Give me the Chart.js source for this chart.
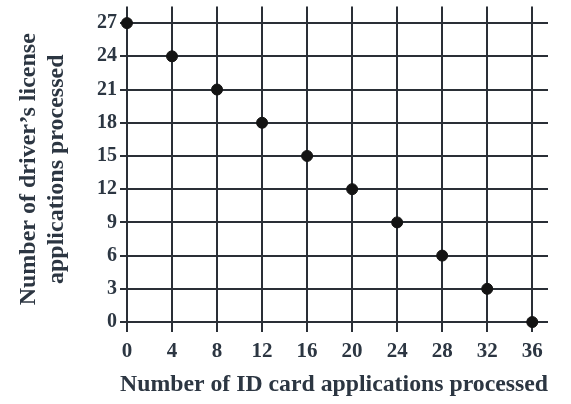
<!DOCTYPE html>
<html>
<head>
<meta charset="utf-8">
<script src="https://cdn.jsdelivr.net/npm/chart.js@4/dist/chart.umd.min.js"></script>
<style>
html,body{margin:0;padding:0;background:#fff;}
#wrap{width:571px;height:404px;position:relative;}
</style>
</head>
<body>
<div id="wrap"><canvas id="c" width="571" height="404"></canvas></div>
<script>
const idCards = [0, 4, 8, 12, 16, 20, 24, 28, 32, 36];
const licenses = [27, 24, 21, 18, 15, 12, 9, 6, 3, 0];
const xTicks = [0, 4, 8, 12, 16, 20, 24, 28, 32, 36];
const yTicks = [0, 3, 6, 9, 12, 15, 18, 21, 24, 27];
const xTitle = "Number of ID card applications processed";
const yTitle = ["Number of driver\u2019s license", "applications processed"];

const ink = '#2c3642';
const grid = '#2a2f36';
const fam = '"Liberation Serif", "DejaVu Serif", serif';

new Chart(document.getElementById('c'), {
  type: 'scatter',
  data: {
    datasets: [{
      data: idCards.map((x, i) => ({x: x, y: licenses[i]})),
      backgroundColor: '#141414',
      borderColor: '#141414',
      pointRadius: 5.5,
      pointHoverRadius: 5.5
    }]
  },
  options: {
    responsive: false,
    animation: false,
    events: [],
    layout: {padding: {top: 5, right: 23, bottom: 0, left: 0}},
    plugins: {legend: {display: false}, tooltip: {enabled: false}},
    scales: {
      x: {
        type: 'linear',
        min: -0.62,
        max: 37.4,
        afterBuildTicks: s => { s.ticks = xTicks.map(v => ({value: v})); },
        afterFit: s => { s.height = 72; s.paddingLeft = 0; s.paddingRight = 0; },
        border: {display: false},
        grid: {color: grid, lineWidth: 2, drawTicks: false},
        ticks: {color: ink, padding: 7, font: {family: fam, size: 21, weight: 'bold'}, maxRotation: 0, autoSkip: false},
        title: {display: true, text: xTitle, color: ink, font: {family: fam, size: 24, weight: 'bold'}, padding: {top: 0, bottom: 5}}
      },
      y: {
        type: 'linear',
        min: -0.9,
        max: 28.5,
        afterBuildTicks: s => { s.ticks = yTicks.map(v => ({value: v})); },
        afterFit: s => { s.width = 120; s.paddingTop = 0; s.paddingBottom = 0; },
        border: {display: false},
        grid: {color: grid, lineWidth: 2, drawTicks: false},
        ticks: {color: ink, padding: 3, font: {family: fam, size: 20, weight: 'bold'}, autoSkip: false},
        title: {display: true, text: yTitle, color: ink, font: {family: fam, size: 24, weight: 'bold', lineHeight: 1.2}, padding: {top: 14, bottom: 0}}
      }
    }
  }
});
</script>
</body>
</html>
